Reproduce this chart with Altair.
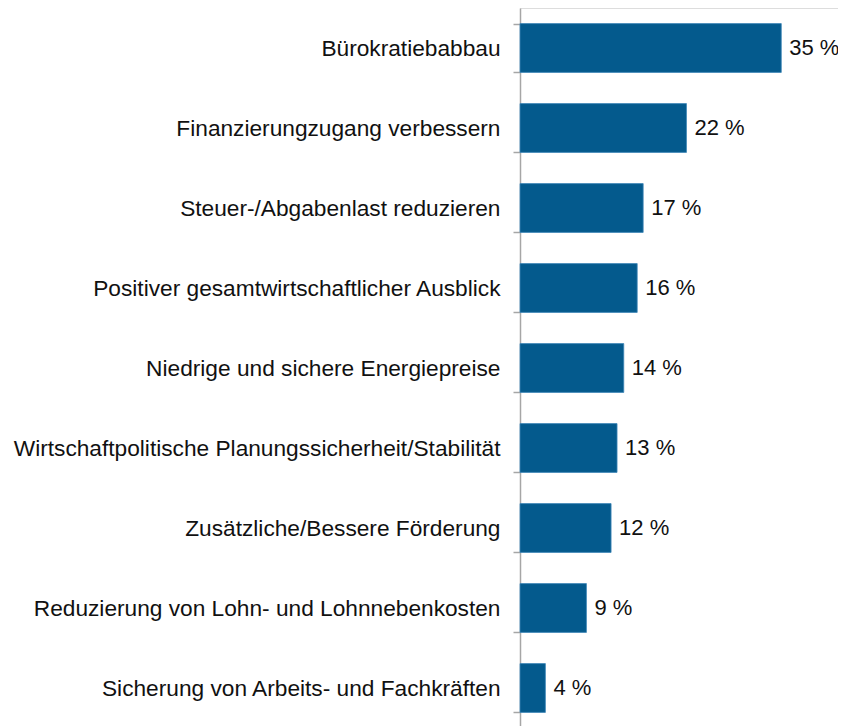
import altair as alt
import pandas as pd

categories = [
    "Bürokratiebabbau",
    "Finanzierungzugang verbessern",
    "Steuer-/Abgabenlast reduzieren",
    "Positiver gesamtwirtschaftlicher Ausblick",
    "Niedrige und sichere Energiepreise",
    "Wirtschaftpolitische Planungssicherheit/Stabilität",
    "Zusätzliche/Bessere Förderung",
    "Reduzierung von Lohn- und Lohnnebenkosten",
    "Sicherung von Arbeits- und Fachkräften",
]
values = [35.0, 22.3, 16.5, 15.7, 13.9, 13.0, 12.2, 8.9, 3.4]
labels = ["35 %", "22 %", "17 %", "16 %", "14 %", "13 %", "12 %", "9 %", "4 %"]

df = pd.DataFrame({"cat": categories, "val": values, "lab": labels})

FONT = "Liberation Sans"
FS = 22.7

y = alt.Y(
    "cat:N",
    sort=categories,
    title=None,
    scale=alt.Scale(paddingInner=0.39, paddingOuter=0.195),
    axis=alt.Axis(
        tickBand="extent",
        tickSize=7,
        tickColor="#A6A6A6",
        domainColor="#A6A6A6",
        domainWidth=1.5,
        tickWidth=1.5,
        labelPadding=13,
        labelFont=FONT,
        labelFontSize=FS,
        labelColor="#111111",
        labelLimit=700,
        grid=False,
    ),
)
x = alt.X("val:Q", title=None, scale=alt.Scale(domain=[0, 42.6], nice=False), axis=None)

bars = alt.Chart(df).mark_bar(color="#045A8D", stroke="#3F86B8", strokeWidth=0.8).encode(x=x, y=y)
text = alt.Chart(df).mark_text(
    align="left", baseline="middle", dx=8, font=FONT, fontSize=22, color="#111111"
).encode(x=x, y=y, text="lab:N")

chart = (
    alt.layer(bars, text)
    .properties(
        width=318,
        height=720,
        autosize=alt.AutoSizeParams(type="none"),
        padding={"left": 512, "top": 0, "right": 0, "bottom": 0},
    )
    .configure_view(stroke=None)
    .configure(background="white")
)

chart.save("out.html", embed_options={"renderer": "svg", "actions": False})
